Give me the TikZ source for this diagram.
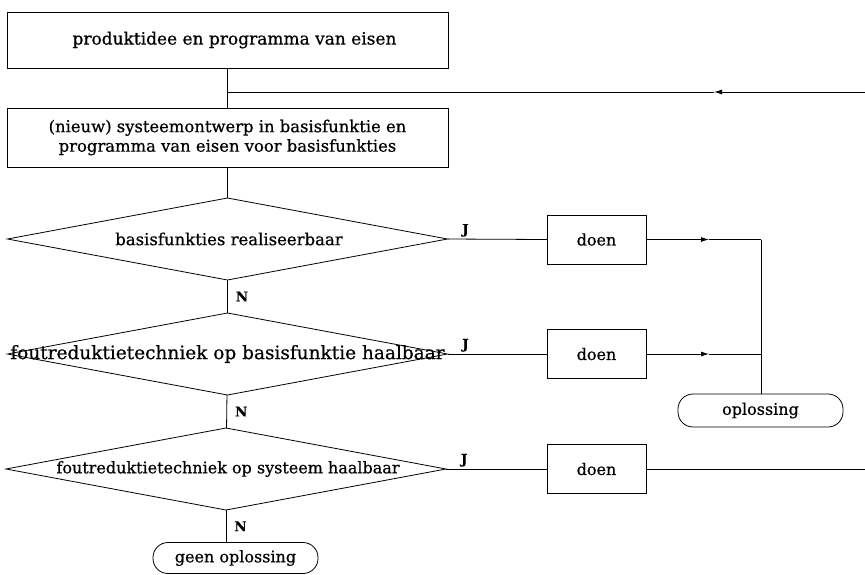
\documentclass[tikz,border=0pt]{standalone}
\usepackage{fontspec}
\setmainfont{DejaVu Serif}[FakeBold=0.6]
\usetikzlibrary{shapes.geometric,arrows.meta}
\begin{document}
\begin{tikzpicture}[x=1pt,y=-1pt,
  every node/.style={font=\fontsize{16}{20}\selectfont},
  ln/.style={line width=0.8pt},
  arr/.style={ln,-{Latex[length=8pt,width=5pt]}},
  boxnode/.style={draw,ln,inner sep=0pt,outer sep=0pt,minimum width=441pt},
  dia/.style={draw,ln,diamond,inner sep=0pt,outer sep=0pt,minimum width=440pt,minimum height=82pt},
  doenbox/.style={draw,ln,inner sep=0pt,outer sep=0pt,minimum width=99pt,minimum height=49pt},
  endbox/.style={draw,ln,rounded corners=15pt,inner sep=0pt,outer sep=0pt,minimum width=165pt,minimum height=33pt},
  lab/.style={font=\fontsize{13.5}{15}\selectfont\bfseries,inner sep=2pt}
]
\useasboundingbox (0,0) rectangle (865,574);

% boxes
\node[boxnode,minimum height=56pt,font=\fontsize{17}{20}\selectfont] (b1) at (227.5,40)
  {\hspace*{14pt}produktidee en programma van eisen};
\node[boxnode,minimum height=59pt,align=center,font=\fontsize{16.4}{19.5}\selectfont] (b2) at (227.5,137.5)
  {(nieuw) systeemontwerp in basisfunktie en\\programma van eisen voor basisfunkties};

% diamonds
\node[dia] (d1) at (227.5,239) {};
\node[font=\fontsize{16.5}{20}\selectfont] (t1) at (229,239) {basisfunkties realiseerbaar};
\node[dia] (d2) at (227.5,354) {};
\node[font=\fontsize{18.5}{22}\selectfont] (t2) at (227.5,354) {foutreduktietechniek op basisfunktie haalbaar};
\node[dia] (d3) at (226,469) {};
\node (t3) at (228,469) {foutreduktietechniek op systeem haalbaar};

% doen boxes
\node[doenbox] (dA) at (596.5,239.5) {doen};
\node[doenbox] (dB) at (596.5,354) {doen};
\node[doenbox] (dC) at (596.5,469) {doen};

% end boxes
\node[endbox] (op) at (760.5,410.5) {oplossing};
\node[endbox,minimum height=31pt] (geen) at (235.5,558) {geen oplossing};

% coordinates
\coordinate (fbR) at (865,92);
\coordinate (fbA) at (714,92);
\coordinate (fbJ) at (227.5,92);
\coordinate (aA) at (709,239.5);
\coordinate (aB) at (709,354);
\coordinate (jA) at (761,239.5);
\coordinate (jB) at (761,354);
\coordinate (outC) at (865,469);

% connectors
\draw[ln] (b1) -- (b2);
\draw[arr] (fbR) -- (fbA);
\draw[ln] (fbA) -- (fbJ);
\draw[ln] (b2) -- (d1);
\draw[ln] (d1) -- node[lab,anchor=west,xshift=6pt] {N} (d2);
\draw[ln] (d2) -- node[lab,anchor=west,xshift=6pt] {N} (d3);
\draw[ln] (d3.south) -- node[lab,anchor=west,xshift=6pt] {N} (d3.south |- geen.north);

\draw[ln] (d1.east) -- node[lab,pos=0.18,above] {J} (dA.west);
\draw[ln] (d2.east) -- node[lab,pos=0.18,above] {J} (dB.west);
\draw[ln] (d3.east) -- node[lab,pos=0.18,above] {J} (dC.west);

\draw[arr] (dA.east) -- (aA);
\draw[ln] (aA) -- (jA);
\draw[arr] (dB.east) -- (aB);
\draw[ln] (aB) -- (jB);
\draw[ln] (jA) -- (op.north -| jA);
\draw[ln] (dC.east) -- (outC);
\end{tikzpicture}
\end{document}
